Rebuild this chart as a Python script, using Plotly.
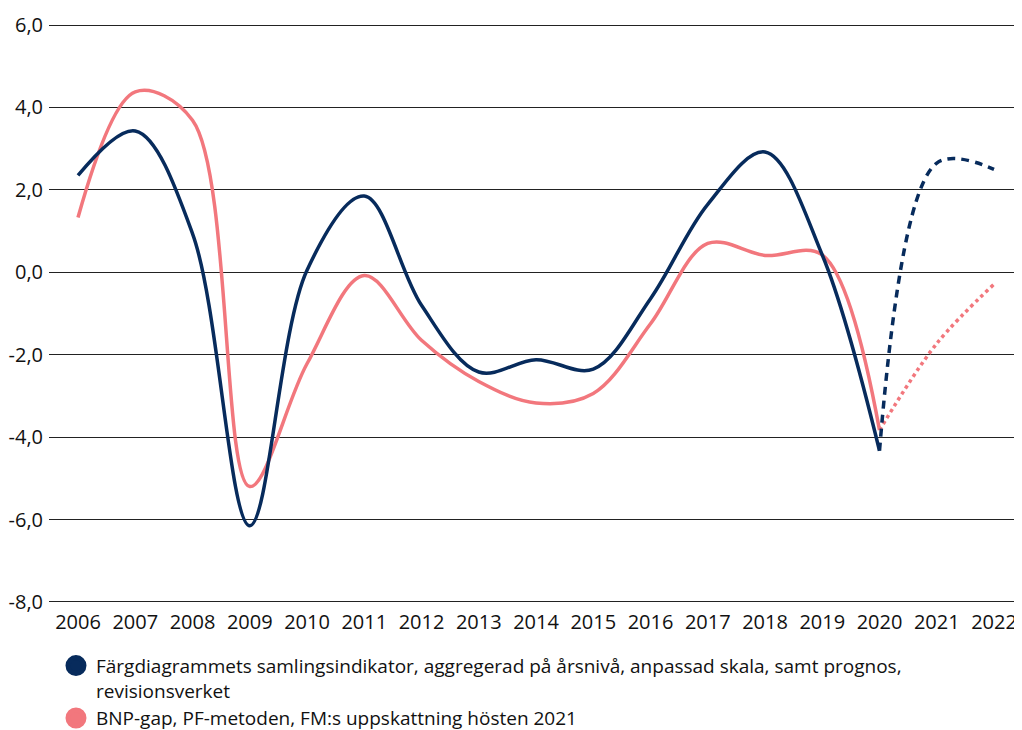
import plotly.graph_objects as go

years = list(range(2006, 2023))
hist_years = list(range(2006, 2021))
fc_years = [2020, 2021, 2022]

navy_hist = [2.35, 3.43, 0.94, -6.15, 0.05, 1.85, -0.8, -2.42, -2.12, -2.35, -0.64, 1.65, 2.92, 0.42, -4.33]
navy_fc = [-4.33, 2.65, 2.5]
pink_hist = [1.33, 4.38, 3.69, -5.2, -2.22, -0.08, -1.65, -2.65, -3.17, -2.94, -1.25, 0.7, 0.41, 0.42, -3.83]
pink_fc = [-3.83, -1.73, -0.29]

y_tickvals = [-8, -6, -4, -2, 0, 2, 4, 6]
y_ticktext = ["-8,0", "-6,0", "-4,0", "-2,0", "0,0", "2,0", "4,0", "6,0"]
x_ticktext = [str(y) for y in years]

name_navy = ("Färgdiagrammets samlingsindikator, aggregerad på årsnivå, anpassad skala, samt prognos,"
             "<br>revisionsverket")
name_pink = "BNP-gap, PF-metoden, FM:s uppskattning hösten 2021"

NAVY = "#072b5c"
PINK = "#f2777d"
FONT = "Open Sans"

fig = go.Figure()
fig.add_trace(go.Scatter(x=hist_years, y=pink_hist, mode="lines", showlegend=False,
                         line=dict(color=PINK, width=3.5, shape="spline", smoothing=1)))
fig.add_trace(go.Scatter(x=fc_years, y=pink_fc, mode="lines", showlegend=False,
                         line=dict(color=PINK, width=3.5, shape="spline", smoothing=1, dash="dot")))
fig.add_trace(go.Scatter(x=hist_years, y=navy_hist, mode="lines", showlegend=False,
                         line=dict(color=NAVY, width=3.5, shape="spline", smoothing=1)))
fig.add_trace(go.Scatter(x=fc_years, y=navy_fc, mode="lines", showlegend=False,
                         line=dict(color=NAVY, width=3.5, shape="spline", smoothing=1, dash="8px,6px")))

# legend entries
fig.add_trace(go.Scatter(x=[None], y=[None], mode="markers", name=name_navy,
                         marker=dict(color=NAVY, size=16, line=dict(color=NAVY, width=5))))
fig.add_trace(go.Scatter(x=[None], y=[None], mode="markers", name=name_pink,
                         marker=dict(color=PINK, size=16, line=dict(color=PINK, width=5))))

fig.update_layout(
    width=1014, height=740,
    margin=dict(l=41, r=2, t=15, b=144, autoexpand=False),
    paper_bgcolor="white", plot_bgcolor="white",
    font=dict(family=FONT, size=20, color="#111111"),
    showlegend=True,
    legend=dict(orientation="v", x=0.0072, xanchor="left", y=-0.0735, yanchor="top",
                valign="top", font=dict(family=FONT, size=19, color="#111111"),
                tracegroupgap=0, itemclick=False, bgcolor="rgba(0,0,0,0)"),
    xaxis=dict(range=[2005.4934, 2022.454], tickvals=years, ticktext=x_ticktext,
               showgrid=False, zeroline=False, showline=False, ticks="", automargin=False,
               ticklabelstandoff=4,
               tickfont=dict(family=FONT, size=20, color="#111111")),
    yaxis=dict(range=[-8.05, 6.05], tickvals=y_tickvals, ticktext=y_ticktext,
               showgrid=True, gridcolor="#222222", gridwidth=1, zeroline=False,
               showline=False, ticks="", ticklabelstandoff=5, automargin=False,
               tickfont=dict(family=FONT, size=20, color="#111111")),
)

fig.write_html("out.html")
